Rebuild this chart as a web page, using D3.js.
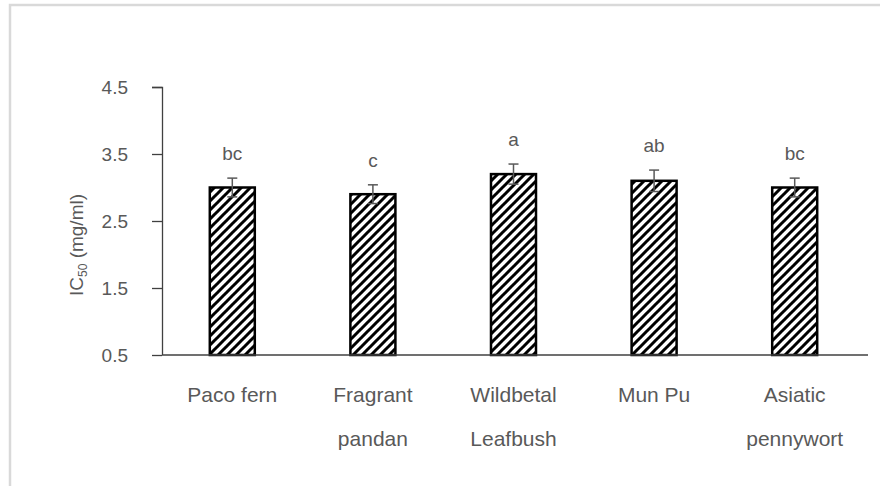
<!DOCTYPE html>
<html>
<head>
<meta charset="utf-8">
<script src="https://cdn.jsdelivr.net/npm/d3@7"></script>
<style>
  body { margin: 0; background: #fff; }
  text { font-family: "Liberation Sans", Arial, sans-serif; fill: #595959; }
</style>
</head>
<body>
<div id="chart-area"></div>
<script>
const categories = [["Paco fern"], ["Fragrant", "pandan"], ["Wildbetal", "Leafbush"], ["Mun Pu"], ["Asiatic", "pennywort"]];
const values = [3.0, 2.9, 3.2, 3.1, 3.0];
const errors = [0.14, 0.14, 0.15, 0.16, 0.14];
const letters = ["bc", "c", "a", "ab", "bc"];
const yTicks = [0.5, 1.5, 2.5, 3.5, 4.5];

const width = 880;
const height = 486;
const margin = { left: 162, right: 15, top: 87, bottom: 131 };
const chartWidth = width - margin.left - margin.right;
const chartHeight = height - margin.top - margin.bottom;

const svg = d3.select('#chart-area')
    .append('svg')
    .attr('width', width)
    .attr('height', height);

// outer frame
svg.append('rect')
    .attr('x', 10).attr('y', 5)
    .attr('width', width + 20).attr('height', height + 20)
    .attr('fill', 'none')
    .attr('stroke', '#d9d9d9')
    .attr('stroke-width', 2.5);

// hatch pattern
const pat = svg.append('defs').append('pattern')
    .attr('id', 'hatch')
    .attr('patternUnits', 'userSpaceOnUse')
    .attr('width', 9).attr('height', 9);
pat.append('rect').attr('width', 9).attr('height', 9).attr('fill', '#fff');
pat.append('path')
    .attr('d', 'M-1,1 l2,-2 M0,9 l9,-9 M8,10 l2,-2')
    .attr('stroke', '#000')
    .attr('stroke-width', 3);

const g = svg.append('g')
    .attr('transform', `translate(${margin.left}, ${margin.top})`);

const idx = d3.range(values.length);

const x = d3.scaleBand()
    .domain(idx)
    .range([0, chartWidth])
    .padding(0);

const y = d3.scaleLinear()
    .domain([0.5, 4.5])
    .range([chartHeight, 0]);

const barW = 45;

g.selectAll('rect.bar')
    .data(idx)
    .enter()
    .append('rect')
    .attr('class', 'bar')
    .attr('x', i => x(i) + x.bandwidth() / 2 - barW / 2)
    .attr('y', i => y(values[i]))
    .attr('width', barW)
    .attr('height', i => chartHeight - y(values[i]))
    .attr('fill', 'url(#hatch)')
    .attr('stroke', '#000')
    .attr('stroke-width', 2.5);

// error bars
const eb = g.selectAll('g.err')
    .data(idx)
    .enter()
    .append('g')
    .attr('class', 'err')
    .attr('stroke', '#595959')
    .attr('stroke-width', 1.5);

eb.append('line')
    .attr('x1', i => x(i) + x.bandwidth() / 2)
    .attr('x2', i => x(i) + x.bandwidth() / 2)
    .attr('y1', i => y(values[i] + errors[i]))
    .attr('y2', i => y(values[i] - errors[i]));
eb.append('line')
    .attr('x1', i => x(i) + x.bandwidth() / 2 - 5)
    .attr('x2', i => x(i) + x.bandwidth() / 2 + 5)
    .attr('y1', i => y(values[i] + errors[i]))
    .attr('y2', i => y(values[i] + errors[i]));
eb.append('line')
    .attr('x1', i => x(i) + x.bandwidth() / 2 - 5)
    .attr('x2', i => x(i) + x.bandwidth() / 2 + 5)
    .attr('y1', i => y(values[i] - errors[i]))
    .attr('y2', i => y(values[i] - errors[i]));

// significance letters
g.selectAll('text.letter')
    .data(idx)
    .enter()
    .append('text')
    .attr('class', 'letter')
    .attr('x', i => x(i) + x.bandwidth() / 2)
    .attr('y', i => y(values[i] + errors[i]) - 18)
    .attr('text-anchor', 'middle')
    .attr('font-size', '19px')
    .text(i => letters[i]);

// y axis
const yAxis = d3.axisLeft(y)
    .tickValues(yTicks)
    .tickFormat(d3.format('.1f'))
    .tickSize(10)
    .tickPadding(24);
const ya = g.append('g')
    .attr('class', 'y axis')
    .call(yAxis);
ya.select('.domain').attr('d', `M-10,0.5H0.5V${chartHeight}`);
ya.selectAll('.domain, .tick line').attr('stroke', '#404040').attr('stroke-width', 1.3);
ya.selectAll('.tick text')
    .attr('font-size', '19px')
    .attr('font-family', '"Liberation Sans", Arial, sans-serif')
    .style('fill', '#595959');

// x axis line
g.append('line')
    .attr('x1', 0).attr('x2', chartWidth + 3)
    .attr('y1', chartHeight).attr('y2', chartHeight)
    .attr('stroke', '#404040')
    .attr('stroke-width', 1.3);

// category labels
const cat = g.selectAll('text.cat')
    .data(idx)
    .enter()
    .append('text')
    .attr('class', 'cat')
    .attr('text-anchor', 'middle')
    .attr('font-size', '21px');
cat.selectAll('tspan')
    .data(i => categories[i].map(s => ({ i, s })))
    .enter()
    .append('tspan')
    .attr('x', d => x(d.i) + x.bandwidth() / 2)
    .attr('y', (d, k) => chartHeight + 47 + k * 44)
    .text(d => d.s);

// y title
const yt = svg.append('text')
    .attr('transform', 'translate(83, 245) rotate(-90)')
    .attr('text-anchor', 'middle')
    .attr('font-size', '19px');
yt.append('tspan').text('IC');
yt.append('tspan').attr('font-size', '12px').attr('dy', 4).text('50');
yt.append('tspan').attr('dy', -4).text(' (mg/ml)');
</script>
</body>
</html>
